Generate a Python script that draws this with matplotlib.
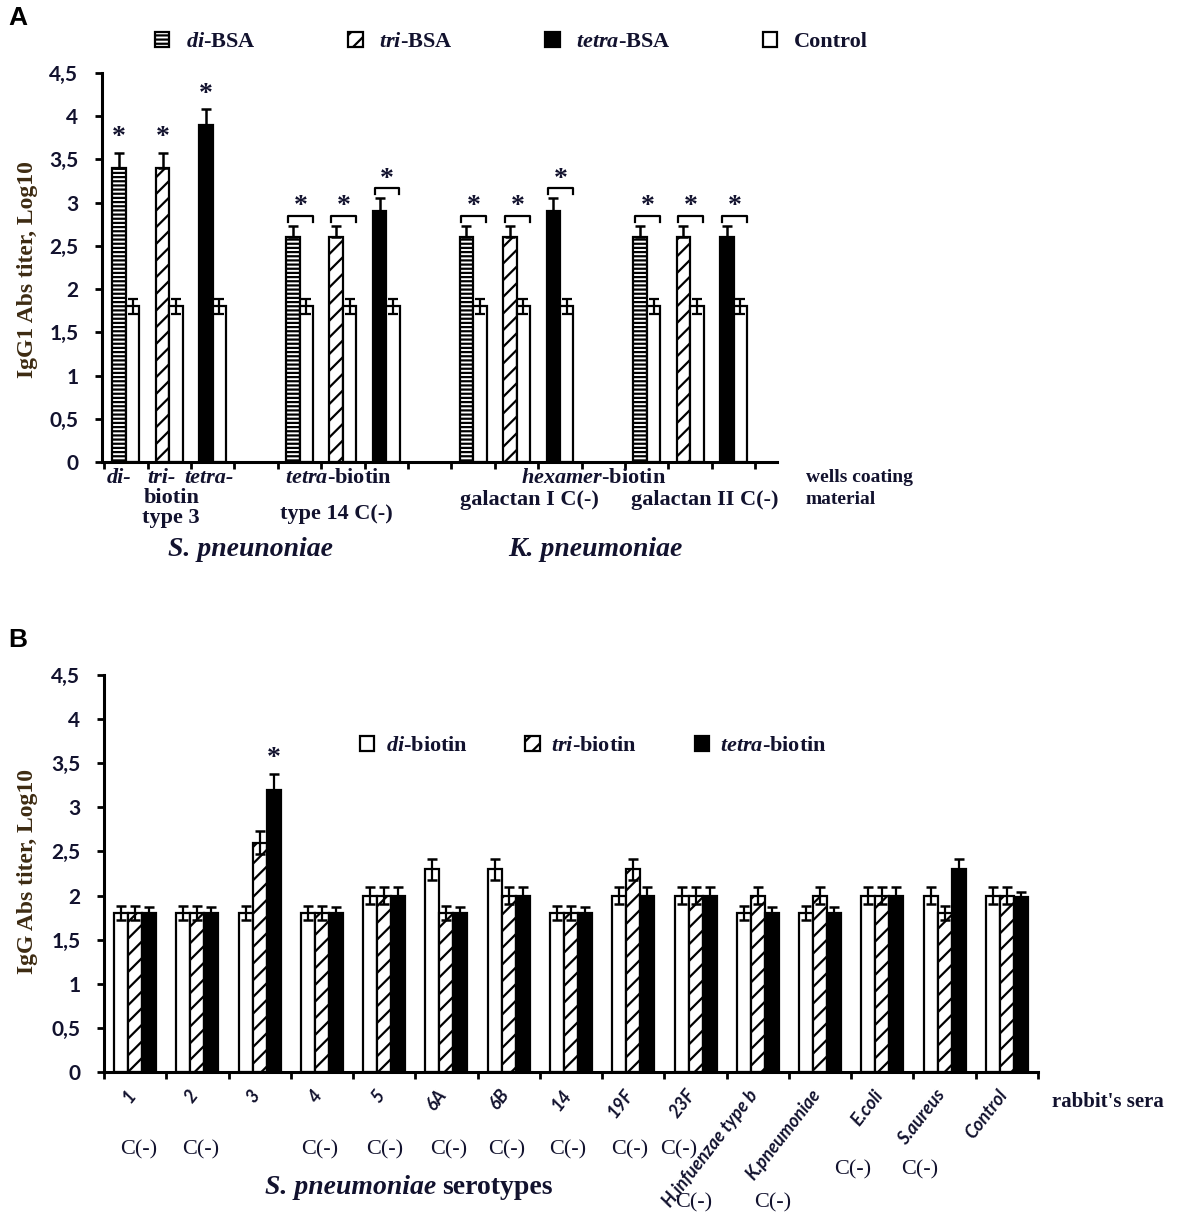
import numpy as np
import matplotlib.pyplot as plt
from matplotlib.patches import Patch

W, H = 1181, 1220

plt.rcParams['font.family'] = ['Liberation Serif', 'DejaVu Serif']
plt.rcParams['mathtext.fontset'] = 'custom'
plt.rcParams['mathtext.rm'] = 'Liberation Serif:bold'
plt.rcParams['mathtext.it'] = 'Liberation Serif:italic:bold'
plt.rcParams['mathtext.bf'] = 'Liberation Serif:bold'
plt.rcParams['hatch.linewidth'] = 1.6

# ---------------- panel A data ----------------
a_groups = ['type 3', 'type 14', 'galactan I', 'galactan II']
a_slots = [0, 4, 8, 12]          # first x slot of each coating group
a_di = [3.4, 2.6, 2.6, 2.6]
a_tri = [3.4, 2.6, 2.6, 2.6]
a_tetra = [3.9, 2.9, 2.9, 2.6]
a_di_err = [0.18, 0.13, 0.13, 0.13]
a_tri_err = [0.18, 0.13, 0.13, 0.13]
a_tetra_err = [0.18, 0.15, 0.15, 0.13]
a_control = [1.8, 1.8, 1.8, 1.8]
a_control_err = [0.09, 0.09, 0.09, 0.09]

# ---------------- panel B data ----------------
b_sera = ['1', '2', '3', '4', '5', '6A', '6B', '14', '19F', '23F',
          'H.infuenzae type b', 'K.pneumoniae', 'E.coli', 'S.aureus', 'Control']
b_di = [1.8, 1.8, 1.8, 1.8, 2.0, 2.3, 2.3, 1.8, 2.0, 2.0, 1.8, 1.8, 2.0, 2.0, 2.0]
b_tri = [1.8, 1.8, 2.6, 1.8, 2.0, 1.8, 2.0, 1.8, 2.3, 2.0, 2.0, 2.0, 2.0, 1.8, 2.0]
b_tetra = [1.8, 1.8, 3.2, 1.8, 2.0, 1.8, 2.0, 1.8, 2.0, 2.0, 1.8, 1.8, 2.0, 2.3, 1.98]
b_di_err = [0.08, 0.08, 0.08, 0.08, 0.1, 0.12, 0.12, 0.08, 0.1, 0.1, 0.08, 0.08, 0.1, 0.1, 0.1]
b_tri_err = [0.08, 0.08, 0.13, 0.08, 0.1, 0.08, 0.1, 0.08, 0.12, 0.1, 0.1, 0.1, 0.1, 0.08, 0.1]
b_tetra_err = [0.07, 0.07, 0.18, 0.07, 0.1, 0.07, 0.1, 0.07, 0.1, 0.1, 0.07, 0.07, 0.1, 0.12, 0.06]
b_negative = [True, True, False, True, True, True, True, True, True, True,
              True, True, True, True, False]

y_ticks = [0, 0.5, 1, 1.5, 2, 2.5, 3, 3.5, 4, 4.5]
y_ticklabels = ['0', '0,5', '1', '1,5', '2', '2,5', '3', '3,5', '4', '4,5']

TXT = '#12122e'
YLAB = '#3d2b12'


def fx(px):
    return px / W


def fy(py):
    return 1 - py / H


def style_axes(ax):
    for s in ['top', 'right']:
        ax.spines[s].set_visible(False)
    for s in ['left', 'bottom']:
        ax.spines[s].set_linewidth(2.2)
    ax.set_ylim(0, 4.5)
    ax.set_yticks(y_ticks)
    ax.set_yticklabels(y_ticklabels, family=['Lato', 'DejaVu Sans'],
                       weight='bold', size=15, color=TXT)
    ax.tick_params(axis='both', direction='out', length=5, width=2)
    ax.tick_params(axis='y', pad=12)
    ax.set_xticklabels([])


fig = plt.figure(figsize=(W / 100, H / 100), dpi=100)

# ======================= Panel A =======================
axA = fig.add_axes([fx(102), fy(462), 675 / W, (462 - 73) / H])
style_axes(axA)
axA.set_xlim(-0.55, 15.0)
axA.set_xticks(np.arange(-0.5, 15.0, 1.0))

bw = 0.31
series = [(a_di, a_di_err, dict(facecolor='white', hatch='----')),
          (a_tri, a_tri_err, dict(facecolor='white', hatch='//')),
          (a_tetra, a_tetra_err, dict(facecolor='black'))]
for s, (vals, errs, kw) in enumerate(series):
    xs = np.array(a_slots) + s
    axA.bar(xs - bw / 2, vals, width=bw, edgecolor='black', linewidth=1.6, zorder=2, **kw)
    axA.errorbar(xs - bw / 2, vals, yerr=[np.zeros(len(errs)), errs], fmt='none',
                 ecolor='black', elinewidth=1.8, capsize=3.5, capthick=1.8, zorder=3)
    axA.bar(xs + bw / 2, a_control, width=bw, facecolor='white',
            edgecolor='black', linewidth=1.6, zorder=2)
    axA.errorbar(xs + bw / 2, a_control, yerr=a_control_err, fmt='none',
                 ecolor='black', elinewidth=1.6, capsize=3.5, capthick=1.6, zorder=3)
    for g, x in enumerate(xs):
        top = vals[g] + errs[g]
        if g == 0:
            axA.text(x - bw / 2, top + 0.17, '*', ha='center', va='center',
                     size=20, weight='bold', color=TXT)
        else:
            yb = top + 0.12
            axA.plot([x - 0.27, x - 0.27, x + 0.3, x + 0.3],
                     [yb - 0.07, yb, yb, yb - 0.07], color='black', lw=1.6, zorder=3)
            axA.text(x + 0.02, yb + 0.1, '*', ha='center', va='center',
                     size=20, weight='bold', color=TXT)

leg_a = [Patch(facecolor='white', edgecolor='black', hatch='----', lw=1.6),
         Patch(facecolor='white', edgecolor='black', hatch='//', lw=1.6),
         Patch(facecolor='black', edgecolor='black', lw=1.6),
         Patch(facecolor='white', edgecolor='black', lw=1.6)]
fig.legend(leg_a, [r'$\mathit{di}$-BSA', r'$\mathit{tri}$-BSA',
                   r'$\mathit{tetra}$-BSA', 'Control'],
           loc='center left', bbox_to_anchor=(fx(155), fy(42)), ncol=4,
           frameon=False, borderpad=0, borderaxespad=0,
           handlelength=0.65, handleheight=0.65, handletextpad=0.75,
           columnspacing=4.15, prop=dict(family='Liberation Serif', weight='bold', size=16),
           labelcolor=TXT)

# panel A category text
a_text = [
    (119, 478, 'di-', 16, 'italic'),
    (161, 478, 'tri-', 16, 'italic'),
    (209, 478, 'tetra-', 16, 'italic'),
    (172, 498, 'biotin', 16, 'normal'),
    (171, 518, 'type 3', 16, 'normal'),
    (338, 478, r'$\mathit{tetra}$-biotin', 16, 'normal'),
    (336, 514, 'type 14 C(-)', 16, 'normal'),
    (594, 478, r'$\mathit{hexamer}$-biotin', 16, 'normal'),
    (529, 500, 'galactan I C(-)', 16, 'normal'),
    (705, 500, 'galactan II C(-)', 16, 'normal'),
    (251, 550, 'S. pneunoniae', 20, 'italic'),
    (595, 550, 'K. pneumoniae', 20, 'italic'),
]
for x, y, t, sz, st in a_text:
    fig.text(fx(x), fy(y), t, ha='center', va='center', size=sz, style=st,
             weight='bold', color=TXT)
fig.text(fx(806), fy(477), 'wells coating', ha='left', va='center', size=14,
         weight='bold', color=TXT)
fig.text(fx(806), fy(499), 'material', ha='left', va='center', size=14,
         weight='bold', color=TXT)

fig.text(fx(28), fy(270), 'IgG1 Abs titer, Log10', rotation=90, ha='center',
         va='center', size=17, weight='bold', color=YLAB)
fig.text(fx(8), fy(18), 'A', ha='left', va='center', size=19, weight='bold',
         family='Liberation Sans', color='black')

# ======================= Panel B =======================
axB = fig.add_axes([fx(104), fy(1072), 934 / W, (1072 - 675) / H])
style_axes(axB)
axB.set_xlim(-0.5, 14.5)
axB.set_xticks(np.arange(-0.5, 15.0, 1.0))

xb = np.arange(len(b_sera))
w = 0.225
b_series = [(b_di, b_di_err, -w, dict(facecolor='white')),
            (b_tri, b_tri_err, 0.0, dict(facecolor='white', hatch='//')),
            (b_tetra, b_tetra_err, w, dict(facecolor='black'))]
for vals, errs, off, kw in b_series:
    axB.bar(xb + off, vals, width=w, edgecolor='black', linewidth=1.6, zorder=2, **kw)
    axB.errorbar(xb + off, vals, yerr=errs, fmt='none', ecolor='black',
                 elinewidth=1.6, capsize=3.5, capthick=1.8, zorder=3)

# significance for serotype 3, tetra-biotin
i3 = b_sera.index('3')
axB.text(xb[i3] + w, b_tetra[i3] + b_tetra_err[i3] + 0.17, '*', ha='center',
         va='center', size=20, weight='bold', color=TXT)

axB.legend([Patch(facecolor='white', edgecolor='black', lw=1.6),
            Patch(facecolor='white', edgecolor='black', hatch='//', lw=1.6),
            Patch(facecolor='black', edgecolor='black', lw=1.6)],
           [r'$\mathit{di}$-biotin', r'$\mathit{tri}$-biotin', r'$\mathit{tetra}$-biotin'],
           loc='center left', bbox_to_anchor=((360 - 104) / 934, (1072 - 746) / 397),
           ncol=3, frameon=False, borderpad=0, borderaxespad=0,
           handlelength=0.65, handleheight=0.65, handletextpad=0.5,
           columnspacing=2.6, prop=dict(family='Liberation Serif', weight='bold', size=16),
           labelcolor=TXT)

# rotated sera names under each group
trB = axB.get_xaxis_transform()
for i, name in enumerate(b_sera):
    axB.text(xb[i] - 0.05, -0.05, name, transform=trB, rotation=52,
             rotation_mode='anchor', ha='right', va='center',
             family=['Lato', 'DejaVu Sans'], style='italic', weight='bold',
             size=13, color=TXT)

# C(-) marks (negative controls); offsets follow the original layout
neg_dx = [0.05, 0.05, 0, -0.03, 0, 0.03, -0.03, -0.05, -0.06, -0.27,
          -1.03, -0.76, -0.47, -0.4, 0]
neg_y = [1150] * 10 + [1203, 1203, 1170, 1170, 1150]
for i, neg in enumerate(b_negative):
    if neg:
        axB.text(xb[i] + neg_dx[i], (1072 - neg_y[i]) / 397, 'C(-)', transform=trB,
                 ha='center', va='center', size=16, color=TXT)

fig.text(fx(1052), fy(1102), "rabbit's sera", ha='left', va='center', size=15,
         weight='bold', color=TXT)
fig.text(fx(436), fy(1188), 'S. pneumoniae', ha='right', va='center', size=20,
         weight='bold', style='italic', color=TXT)
fig.text(fx(442), fy(1188), 'serotypes', ha='left', va='center', size=20,
         weight='bold', color=TXT)
fig.text(fx(28), fy(872), 'IgG Abs titer, Log10', rotation=90, ha='center',
         va='center', size=17, weight='bold', color=YLAB)
fig.text(fx(8), fy(640), 'B', ha='left', va='center', size=19, weight='bold',
         family='Liberation Sans', color='black')

fig.savefig('out.png', dpi=100)
